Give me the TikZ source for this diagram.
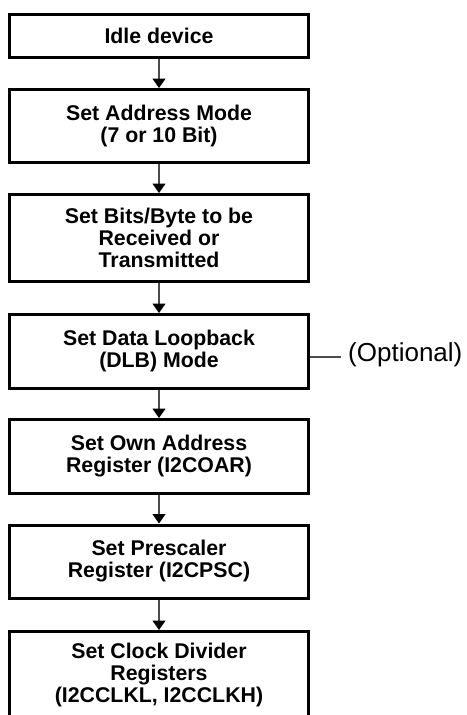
\documentclass[tikz,border=0pt]{standalone}
\usepackage{fontspec}
\setmainfont{Liberation Sans}
\usetikzlibrary{arrows.meta}
\begin{document}
\begin{tikzpicture}[x=1pt,y=1pt,
  stepbox/.style={draw=black,line width=3pt,rectangle,minimum width=299pt,
    inner sep=0pt,align=center,font=\fontsize{21.3}{22}\selectfont\bfseries},
  flow/.style={draw=black!70,line width=1.3pt,
    -{Triangle[width=13pt,length=9.5pt,color=black]}},
  note/.style={draw=black!70,line width=1.2pt}]
\useasboundingbox (0,0) rectangle (466,-715);
\node[stepbox,minimum height=43pt] (b1) at (159,-36) {Idle device};
\node[stepbox,minimum height=73pt] (b2) at (159,-126) {Set Address Mode\\(7 or 10 Bit)};
\node[stepbox,minimum height=86.5pt] (b3) at (159,-237.75) {Set Bits/Byte to be\\Received or\\Transmitted};
\node[stepbox,minimum height=73.5pt] (b4) at (159,-351.25) {Set Data Loopback\\(DLB) Mode};
\node[stepbox,minimum height=73.5pt] (b5) at (159,-456.25) {Set Own Address\\Register (I2COAR)};
\node[stepbox,minimum height=73pt] (b6) at (159,-561.5) {Set Prescaler\\Register (I2CPSC)};
\node[stepbox,minimum height=87pt] (b7) at (159,-675) {Set Clock Divider\\Registers\\(I2CCLKL, I2CCLKH)};
\draw[flow] (b1.south) -- (b2.north);
\draw[flow] (b2.south) -- (b3.north);
\draw[flow] (b3.south) -- (b4.north);
\draw[flow] (b4.south) -- (b5.north);
\draw[flow] (b5.south) -- (b6.north);
\draw[flow] (b6.south) -- (b7.north);
\node[anchor=west,inner sep=0pt,font=\fontsize{26}{28}\selectfont] (opt) at (348,-355) {(Optional)};
\coordinate (optend) at (341,-357);
\draw[note] (b4.east |- optend) -- (optend);
\end{tikzpicture}
\end{document}
